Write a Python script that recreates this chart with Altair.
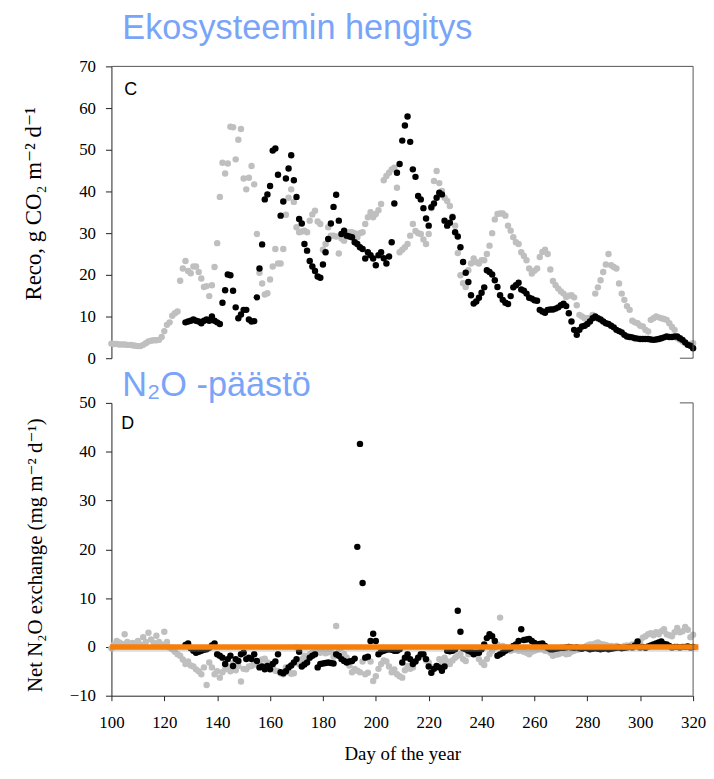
import altair as alt
import pandas as pd

# ---------------- data ----------------
TOP_GRAY_START = 100
top_gray = [
    3.5, 3.4, 3.4, 3.3, 3.3, 3.3, 3.2, 3.2, 3.1, 3.0,
    2.9, 2.9, 3.2, 3.6, 4.0, 4.2, 4.3, 4.3, 4.4, 5.1,
    6.5, 8.0, 8.6, 10.2, 10.8, 11.2, 18.6, 21.5, 23.3, 20.9,
    20.4, 22.0, 22.0, 20.7, 19.1, 17.1, 17.3, 14.9, 17.5, 21.9,
    27.6, 38.7, 46.9, 44.3, 46.7, 55.5, 55.4, 47.7, 52.4, 55.0,
    43.1, 40.5, 43.3, 46.1, 41.7, 29.8, 20.5, 17.9, 15.3, 15.6,
    18.9, 22.0, 26.2, 22.7, 22.7, 26.2, 34.4, 38.5, 40.5, 37.5,
    31.4, 30.2, 30.4, 30.6, 30.2, 33.0, 34.5, 35.4, 32.8, 32.2,
    26.0, 27.4, 31.4, 29.4, 29.4, 29.2, 25.1, 28.7, 28.2, 29.5,
    30.2, 30.2, 30.0, 29.0, 30.0, 30.2, 32.2, 33.8, 35.0, 33.8,
    34.6, 35.5, 37.0, 42.7, 43.7, 44.5, 45.3, 45.7, 40.9, 25.4,
    26.0, 26.6, 27.4, 29.4, 32.2, 30.5, 30.0, 29.8, 28.5, 27.4,
    29.8, 36.0, 42.5, 44.9, 42.0, 40.1, 38.5, 37.7, 36.5, 34.0,
    31.8, 25.2, 19.9, 18.0, 17.1, 21.1, 22.7, 23.9, 23.0, 22.7,
    23.5, 23.5, 25.0, 27.0, 30.0, 33.3, 34.6, 34.7, 34.7, 34.2,
    31.8, 30.6, 29.0, 27.8, 27.4, 25.4, 24.5, 23.5, 21.5, 20.3,
    21.0, 21.5, 24.3, 25.5, 26.0, 25.0, 21.3, 18.5, 17.5, 16.7,
    16.0, 15.5, 14.7, 15.0, 15.1, 14.6, 12.7, 10.4, 10.0, 9.6,
    9.6, 9.6, 10.4, 15.5, 17.0, 18.7, 20.7, 22.5, 25.0, 22.3,
    21.9, 21.5, 17.9, 15.5, 14.0, 12.5, 11.6, 9.0, 8.6, 8.4,
    7.8, 7.6, 6.8, 6.4, 9.2, 9.6, 10.0, 9.8, 9.6, 9.4,
    9.2, 8.4, 7.5, 6.8, 4.8, 4.4, 4.0, 3.6, 3.2, 3.4,
    3.6,
]

TOP_BLACK_START = 128
top_black = [
    8.6, 8.8, 9.0, 9.3, 9.0, 8.8, 8.4, 9.0, 9.3, 9.0,
    10.0, 9.0, 8.6, 8.2, 13.3, 16.3, 20.1, 19.9, 16.2, 12.2,
    9.6, 10.5, 11.6, 11.6, 9.3, 8.8, 8.9, 14.6, 21.5, 27.3,
    38.1, 39.3, 41.3, 49.8, 50.3, 44.0, 34.2, 37.6, 43.1, 45.5,
    48.7, 42.7, 38.7, 33.4, 32.3, 27.4, 25.8, 23.3, 22.0, 20.9,
    19.6, 19.3, 22.5, 25.4, 28.6, 32.3, 36.3, 39.2, 33.0, 29.8,
    30.6, 29.4, 29.2, 29.0, 27.8, 27.4, 26.6, 26.2, 23.9, 25.4,
    24.7, 23.9, 22.3, 24.7, 25.4, 24.0, 22.7, 24.4, 27.8, 37.1,
    44.5, 46.6, 52.2, 55.8, 58.0, 51.9, 45.3, 43.5, 38.9, 38.1,
    36.0, 33.5, 31.8, 36.2, 37.1, 38.5, 39.7, 39.3, 33.0, 31.8,
    32.5, 33.8, 30.2, 29.2, 26.6, 23.1, 20.5, 18.3, 15.1, 13.1,
    13.6, 14.5, 15.7, 17.0, 21.1, 20.7, 20.1, 18.7, 17.1, 15.1,
    14.0, 13.3, 13.0, 14.9, 17.0, 17.5, 18.1, 16.5, 16.2, 15.5,
    14.5, 14.3, 13.9, 13.8, 11.6, 11.2, 10.9, 11.6, 11.7, 11.7,
    11.9, 12.2, 12.7, 13.1, 12.5, 10.8, 8.8, 6.8, 5.6, 6.8,
    7.6, 7.8, 8.2, 8.8, 9.6, 10.0, 9.6, 9.3, 8.8, 8.4,
    8.2, 7.8, 7.4, 6.8, 6.5, 6.2, 5.6, 5.2, 5.1, 5.0,
    4.8, 4.7, 4.6, 4.6, 4.6, 4.6, 4.5, 4.4, 4.5, 4.6,
    4.8, 5.0, 5.2, 5.1, 5.1, 5.2, 5.2, 4.8, 4.4, 3.8,
    3.2, 3.0, 2.4,
]

BOT_GRAY_START = 100
bot_gray = [
    -0.3, 0.5, 1.2, 0.9, 0.6, 2.6, 1.0, 0.6, 0.8, 0.4,
    1.2, 0.5, 2.0, 1.0, 2.9, 1.5, 0.8, 2.3, 1.0, 0.5,
    3.1, 1.0, -0.1, -0.5, -1.0, -1.5, -1.8, -2.6, -3.5, -3.0,
    -3.8, -4.0, -4.6, -5.0, -5.6, -4.2, -7.8, -3.2, -4.2, -5.6,
    -5.0, -6.3, -5.2, -4.6, -4.0, -5.0, -3.4, -4.8, -3.9, -7.1,
    -4.5, -4.6, -4.0, -3.9, -3.6, -3.2, -2.9, -2.6, -2.4, -3.2,
    -3.5, -4.2, -4.9, -5.0, -5.4, -5.6, -4.2, -5.2, -5.5, -5.4,
    -0.1, -3.5, -2.5, -1.8, -2.0, -1.5, -1.2, -0.8, -0.9, -1.2,
    -1.0, -1.3, -1.1, -1.0, -2.0, 4.3, -0.5, -0.2, -1.5, -2.2,
    -3.8, -5.2, -4.5, -4.9, -5.2, -3.0, -5.6, -5.3, -3.0, -7.0,
    -6.0, -4.5, -3.5, -2.8, -3.0, -4.0, -5.2, -4.6, -5.6, -6.0,
    -6.3, -4.8, -3.9, -4.5, -4.2, -3.0, -2.2, -2.0, -1.8, -2.8,
    -3.2, -5.3, -4.2, -3.9, -2.5, -3.0, -2.2, -3.0, -3.5, -2.8,
    -2.2, -1.8, -1.5, -2.5, -2.9, -1.5, -0.9, -1.2, -1.5, -2.5,
    -3.2, -3.7, -2.5, -1.5, -0.8, -0.1, 0.5, 6.0, 0.2, -0.1,
    -0.5, -0.8, -0.6, -0.5, -0.8, -0.8, -1.0, -1.2, -1.5, -1.0,
    -0.8, -0.6, -0.5, -0.5, -0.8, -0.8, -1.2, -1.8, -1.6, -1.5,
    -1.3, -1.2, -1.5, -1.4, -1.0, -0.8, -0.6, -0.5, -0.3, 0.0,
    0.3, 0.5, 0.5, 0.7, 0.9, 0.6, 0.5, 0.4, 0.2, 0.2,
    0.0, 0.2, 0.0, -0.2, 0.2, 0.3, 0.2, 0.5, 0.4, 0.8,
    1.2, 1.9, 2.2, 2.6, 2.8, 2.4, 3.0, 2.6, 3.2, 3.6,
    2.6, 2.4, 2.2, 3.0, 3.9, 3.0, 3.2, 4.1, 3.5, 2.0,
    2.5,
]

BOT_BLACK_START = 128
bot_black = [
    0.4, 0.7, -0.3, -0.8, -1.2, -1.0, -0.8, -0.6, -0.5, -0.2,
    0.3, 0.7, -1.5, -1.8, -2.2, -3.5, -2.5, -1.8, -3.9, -2.5,
    -2.9, -1.5, -1.2, -2.5, -2.2, -2.5, -1.5, -2.9, -4.2, -4.0,
    -4.6, -3.9, -4.6, -3.5, -3.0, -1.5, -5.2, -5.4, -5.0, -4.2,
    -3.8, -3.2, -2.5, -1.0, -4.0, -3.6, -3.2, -2.2, -1.8, -1.5,
    -4.2, -3.5, -3.4, -3.3, -3.2, -3.3, -3.4, -1.5, -1.8, -2.5,
    -2.9, -3.2, -3.0, -2.9, -2.4, 20.5, 41.6, 13.1, -2.2, -2.0,
    1.2, 2.7, 1.2, -1.5, -1.0, -0.8, -0.6, -0.5, -0.6, -0.8,
    -0.8, -0.5, -3.2, -2.2, -1.5, -2.5, -3.5, -3.0, -2.2, -1.5,
    -1.5, -2.5, -4.0, -5.3, -4.5, -3.9, -4.2, -4.9, -4.0, -0.8,
    -0.9, -0.8, -0.5, 7.4, 3.1, -0.3, -0.5, -0.8, -1.0, -1.5,
    -1.2, -1.2, -0.5, 0.5, 1.8, 2.6, 2.2, 1.2, -1.8, -1.5,
    -1.2, -0.8, -0.5, -0.3, 0.2, 0.5, 1.2, 3.6, 1.4, 1.5,
    1.6, 1.2, 0.8, 0.5, 0.6, 0.7, 0.2, -0.2, -0.5, -0.5,
    -0.4, -0.3, -0.2, -0.2, -0.1, 0.0, -0.1, -0.2, -0.1, -0.3,
    -0.4, -0.2, -0.3, -0.5, -0.4, -0.3, -0.4, -0.5, -0.4, -0.3,
    -0.5, -0.4, -0.3, -0.2, -0.1, -0.3, -0.2, -0.1, 0.0, -0.1,
    0.3, 1.1, -0.1, 0.0, -0.2, 0.1, 0.3, 0.5, 0.7, 0.9,
    1.1, 0.6, 0.5, 0.2, -0.1, 0.0, 0.0, -0.1, 0.0, 0.0,
    0.1, -0.1, 0.0,
]

x_ticks = [100, 120, 140, 160, 180, 200, 220, 240, 260, 280, 300, 320]
top_ticks = [0, 10, 20, 30, 40, 50, 60, 70]
bot_ticks = [-10, 0, 10, 20, 30, 40, 50]

top_heading = "Ekosysteemin hengitys"
bot_heading = "N\u2082O -päästö"
top_ytitle = "Reco, g CO\u2082 m\u207b\u00b2 d\u207b\u00b9"
bot_ytitle = "Net N\u2082O exchange (mg m\u207b\u00b2 d\u207b\u00b9)"
x_title = "Day of the year"

# ---------------- styles ----------------
GRAY = "#bfbfbf"
BLUE = "#79a4f8"
ORANGE = "#f67f0a"
SERIF = "Liberation Serif, DejaVu Serif, serif"
SANS = "Liberation Sans, Arial, sans-serif"
W, H_TOP, H_BOT = 586, 294, 295


def series(start, vals):
    return pd.DataFrame({"day": list(range(start, start + len(vals))), "v": vals})


XS = alt.Scale(domain=[100, 320], nice=False, zero=False)
YS_TOP = alt.Scale(domain=[0, 70], nice=False, zero=False)
YS_BOT = alt.Scale(domain=[-10, 50], nice=False, zero=False)

common_y = dict(grid=False, tickSize=6, labelPadding=10, labelFont=SERIF,
                labelFontSize=17, labelColor="black", titleFont=SERIF,
                titleFontWeight="normal", titleColor="black",
                titlePadding=28, minExtent=38, maxExtent=38,
                domainColor="#222", tickColor="#222")

top_yaxis = alt.Axis(values=top_ticks, title=top_ytitle, titleY=138,
                     titleFontSize=23, **common_y)
bot_yaxis = alt.Axis(values=bot_ticks, title=bot_ytitle, titleY=153,
                     titleFontSize=21, **common_y)
bot_xaxis = alt.Axis(values=x_ticks, title=x_title, grid=False, tickSize=5,
                     labelPadding=14, labelFont=SERIF, labelFontSize=17,
                     labelColor="black", titleFont=SERIF, titleFontSize=19,
                     titleFontWeight="normal", titleColor="black",
                     titlePadding=14, domainColor="#222", tickColor="#222",
                     labelFlush=False)


def panel(gray_df, black_df, ys, yaxis, xaxis, ymax, ymin, label, heading,
          head_y, label_x, label_y):
    X = alt.X("day:Q", scale=XS, axis=xaxis)
    Y = alt.Y("v:Q", scale=ys, axis=yaxis)
    g = alt.Chart(gray_df).mark_circle(size=42, color=GRAY, opacity=1).encode(x=X, y=Y)
    b = alt.Chart(black_df).mark_circle(size=42, color="black", opacity=1).encode(x=X, y=Y)
    top_line = alt.Chart(pd.DataFrame({"day": [100], "day2": [320], "v": [ymax]})).mark_rule(
        color="#555", strokeWidth=1).encode(x=X, x2="day2:Q", y=Y)
    right_line = alt.Chart(pd.DataFrame({"day": [320], "v": [ymin], "v2": [ymax]})).mark_rule(
        color="#555", strokeWidth=1).encode(x=X, y=Y, y2="v2:Q")
    lbl = alt.Chart(pd.DataFrame({"t": [label]})).mark_text(
        font=SANS, fontSize=18, color="black", align="center", baseline="middle").encode(
        text="t:N", x=alt.value(label_x), y=alt.value(label_y))
    head = alt.Chart(pd.DataFrame({"t": [heading]})).mark_text(
        font=SANS, fontSize=34.5, color=BLUE, align="left", baseline="alphabetic").encode(
        text="t:N", x=alt.value(11), y=alt.value(head_y))
    return [g, b, top_line, right_line, lbl, head], X, Y


top_layers, Xt, Yt = panel(series(TOP_GRAY_START, top_gray), series(TOP_BLACK_START, top_black),
                           YS_TOP, top_yaxis, None, 70, 0, "C", top_heading, -28, 19.5, 24)
# top panel: short tick at bottom right corner
top_corner = alt.Chart(pd.DataFrame({"day": [315], "day2": [320], "v": [0]})).mark_rule(
    color="#555").encode(x=Xt, x2="day2:Q", y=Yt)
top_layers = [top_layers[0], top_layers[1], top_layers[3], top_corner,
              top_layers[2], top_layers[4], top_layers[5]]
top = alt.layer(*top_layers).properties(width=W, height=H_TOP)

bot_layers, Xb, Yb = panel(series(BOT_GRAY_START, bot_gray), series(BOT_BLACK_START, bot_black),
                           YS_BOT, bot_yaxis, bot_xaxis, 50, -10, "D", bot_heading, -7, 16.5, 21)
bot_corner = alt.Chart(pd.DataFrame({"day": [315], "day2": [320], "v": [50]})).mark_rule(
    color="#555").encode(x=Xb, x2="day2:Q", y=Yb)
zero_df = pd.DataFrame({"day": [99.5], "day2": [322], "v": [0]})
zero_shadow = alt.Chart(zero_df).mark_rule(color="#999", strokeWidth=6, opacity=0.35,
                                           yOffset=2).encode(x=Xb, x2="day2:Q", y=Yb)
zero_line = alt.Chart(zero_df).mark_rule(color=ORANGE, strokeWidth=5.5).encode(
    x=Xb, x2="day2:Q", y=Yb)
bot = alt.layer(bot_layers[0], bot_layers[1], zero_shadow, zero_line, bot_layers[3],
                bot_corner, bot_layers[4], bot_layers[5]).properties(width=W, height=H_BOT)

chart = alt.vconcat(top, bot, spacing=45, bounds="flush").configure_view(
    strokeWidth=0).properties(padding={"left": 15.2, "top": 0, "right": 0, "bottom": 0})

chart.save("out.html", embed_options={"renderer": "svg", "actions": False})
